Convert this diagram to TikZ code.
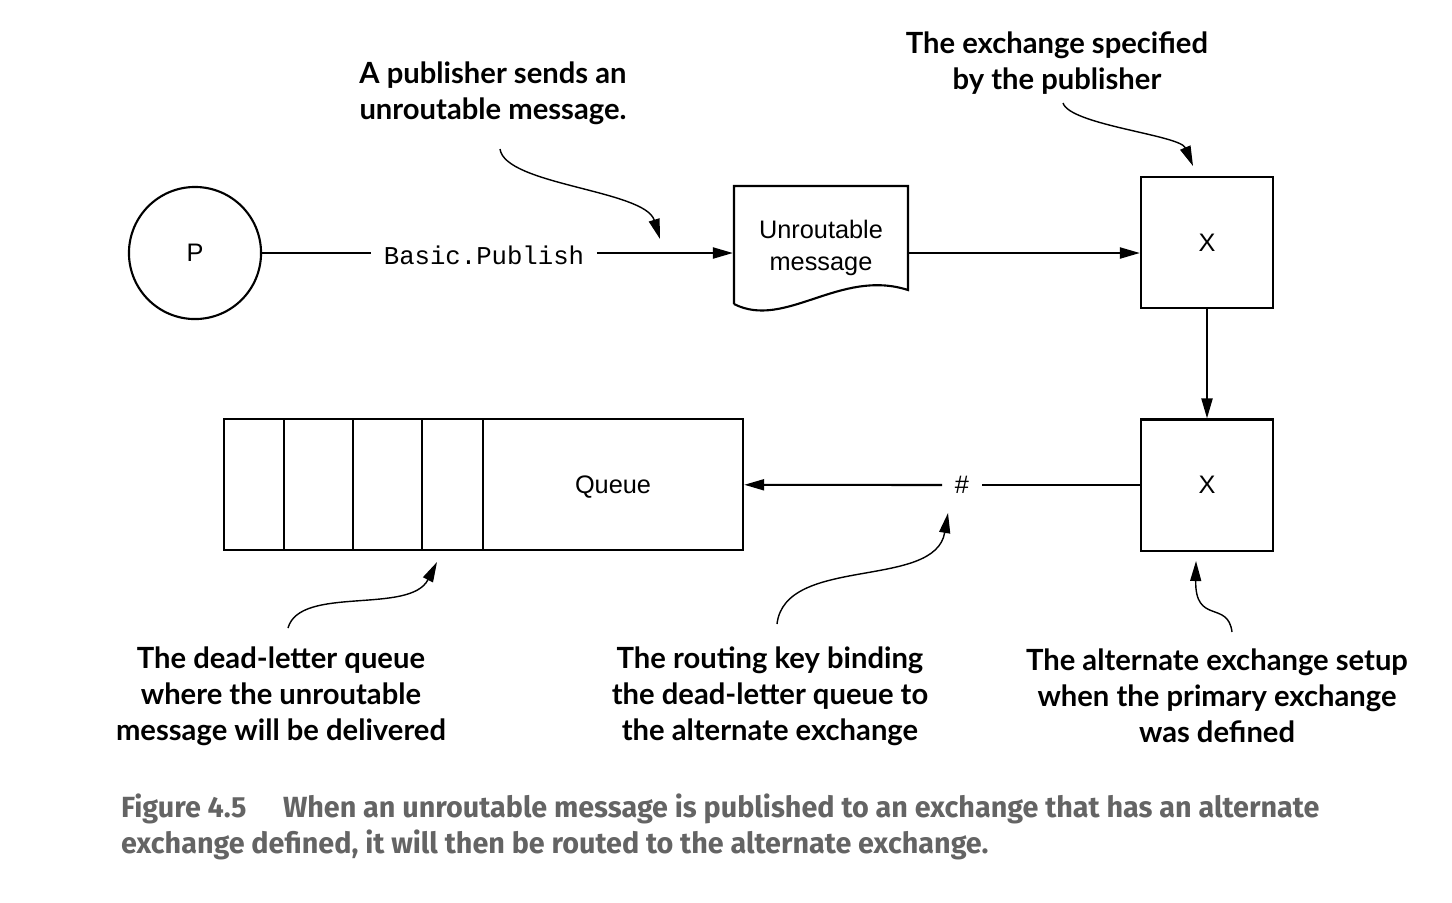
\documentclass[tikz,border=0pt]{standalone}
\usepackage{fontspec}
\setmainfont{Liberation Sans}
\setmonofont{Liberation Mono}
\newfontfamily\notefont{Lato}
\newfontfamily\capfont[FakeStretch=0.985]{Fira Sans}
\usetikzlibrary{arrows.meta}
\definecolor{capgray}{RGB}{100,100,100}

\begin{document}
\begin{tikzpicture}[x=0.01cm, y=-0.01cm, line width=0.6pt, >={Triangle[length=2mm, width=1.1mm]}]
	\tikzset{box/.style={draw, minimum width=1.32cm, minimum height=1.31cm, font=\fontsize{7.2}{9}\selectfont},
		note/.style={align=center, font=\notefont\bfseries\fontsize{8.3}{10.3}\selectfont},
		pointer/.style={->, line width=0.4pt}};
	\useasboundingbox (0,0) rectangle (1452,902);

	\node[circle, draw, minimum size=1.32cm, font=\fontsize{7.2}{9}\selectfont] (p) at (195, 253) {P};
	\node[font=\ttfamily\fontsize{7.3}{9}\selectfont] (publish) at (484, 255) {Basic.Publish};
	\node[minimum width=1.74cm, align=center, font=\fontsize{7.2}{9.3}\selectfont] (msg) at (821, 248) {Unroutable\\message};
	\node[box] (x1) at (1207, 242.5) {X};
	\node[box] (x2) at (1207, 485) {X};
	\node[font=\fontsize{7.2}{9}\selectfont] (hash) at (962, 485) {\#};

	% the message sheet
	\draw (734, 304) -- (734, 186) -- (908, 186) -- (908, 290)
		.. controls (840, 268) and (785, 330) .. (734, 304);

	% dead-letter queue
	\node[draw, minimum width=5.19cm, minimum height=1.31cm] (queue) at (483.5, 484.5) {};
	\node[font=\fontsize{7.2}{9}\selectfont] (qlabel) at (613, 487) {Queue};
	\foreach \i in {284, 353, 422, 483}
		\draw (\i, 419) -- (\i, 550);

	\draw (p.east) -- (p.east -| publish.west);
	\draw[->] (publish.east |- p.east) -- (msg.west |- p.east);
	\draw[->] (msg.east |- p.east) -- (x1.west |- p.east);
	\draw[->] (x1) to (x2);
	\draw (x2) to (hash);
	\draw[->] (hash) to (queue);

	% notes
	\node[note] (n1) at (493, 93) {A publisher sends an\\unroutable message.};
	\node[note] (n2) at (1057, 63) {The exchange specified\\by the publisher};
	\node[note] (n3) at (281, 696) {The dead-letter queue\\where the unroutable\\message will be delivered};
	\node[note] (n4) at (770, 696) {The routing key binding\\the dead-letter queue to\\the alternate exchange};
	\node[note] (n5) at (1217, 696) {The alternate exchange setup\\when the primary exchange\\was defined};

	\coordinate (t1) at (660, 239);
	\coordinate (t2) at (1193, 166);
	\coordinate (t3) at (437, 562);
	\coordinate (t4) at (948, 513);
	\coordinate (t5) at (1196, 561);

	\draw[pointer] (500, 149) .. controls (505, 185) and (645, 190) .. (t1);
	\draw[pointer] (1063, 103) .. controls (1070, 125) and (1180, 135) .. (t2);
	\draw[pointer] (288, 628) .. controls (300, 585) and (410, 615) .. (t3);
	\draw[pointer] (777, 624) .. controls (785, 555) and (935, 590) .. (t4);
	\draw[pointer] (1232, 632) .. controls (1228, 600) and (1195, 625) .. (t5);

	% caption
	\node[anchor=west, align=left, inner sep=0pt, text=capgray, font=\capfont\bfseries\fontsize{8.3}{10.3}\selectfont] (cap) at (120, 827)
		{Figure 4.5\hspace{1.25em}When an unroutable message is published to an exchange that has an alternate\\exchange defined, it will then be routed to the alternate exchange.};
\end{tikzpicture}
\end{document}
